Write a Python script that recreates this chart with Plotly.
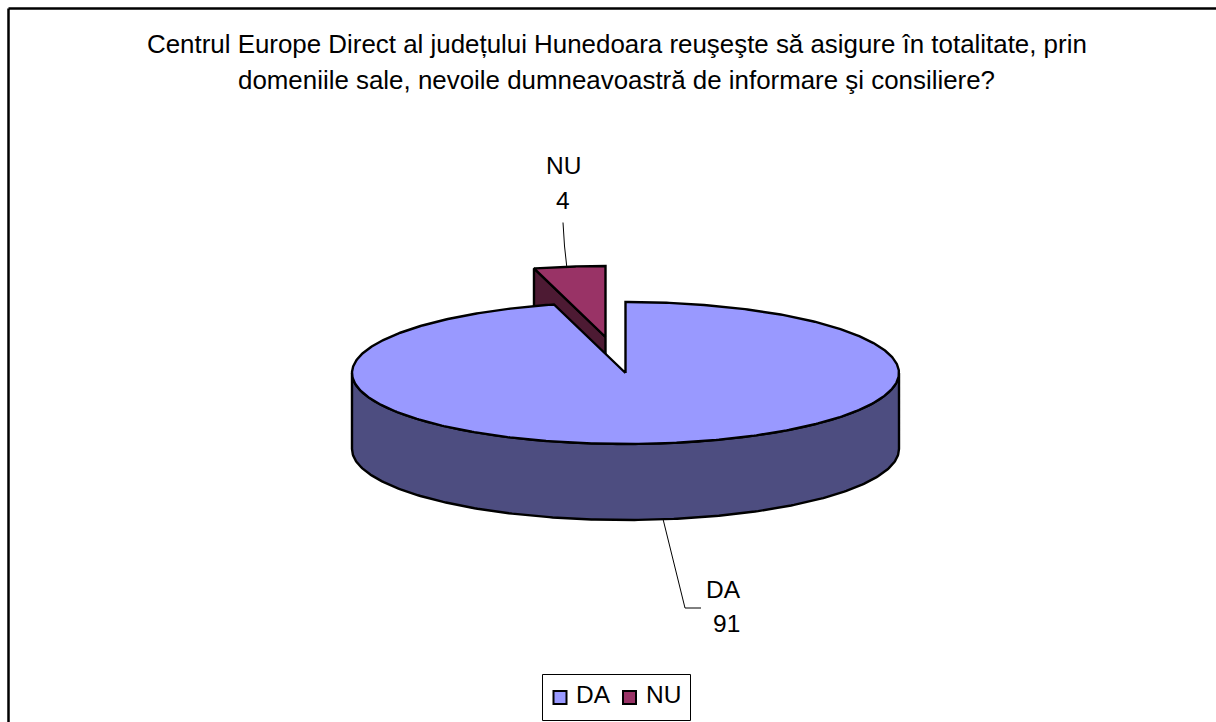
import numpy as np
import plotly.graph_objects as go

# --- data ---
categories = ["DA", "NU"]
values = [91, 4]
title_lines = [
    "Centrul Europe Direct al județului Hunedoara reuşeşte să asigure în totalitate, prin",
    "domeniile sale, nevoile dumneavoastră de informare şi consiliere?",
]

# --- styles / projection ---
W, H = 1216, 722
FONT = "Liberation Sans, Arial, sans-serif"
TOP = {"DA": "#9999FF", "NU": "#993366"}
SIDE = {"DA": "#4D4D80", "NU": "#4D1A33"}
CX, CY, RX, RY, DEPTH = 625.5, 373.0, 273.5, 71.0, 76.0
EXPLODE = {"DA": (0.0, 0.0), "NU": (-20.0, -36.0)}
LW = 2.4


def rim(a0, a1, ox, oy, dz=0.0, n=240):
    """Points of the elliptical rim between clock angles a0..a1 (degrees)."""
    t = np.radians(np.linspace(a0, a1, n))
    return CX + ox + RX * np.sin(t), CY + oy + dz - RY * np.cos(t)


def poly(x, y, color, width=LW):
    return go.Scatter(
        x=list(x), y=list(y), mode="lines", fill="toself", fillcolor=color,
        line=dict(color="black", width=width), hoverinfo="skip", showlegend=False,
    )


total = sum(values)
spans = {}
start = 0.0
for c, v in zip(categories, values):
    spans[c] = (start, start + 360.0 * v / total)
    start += 360.0 * v / total

fig = go.Figure()

# exploded small slice first (it sits behind the big one)
a0, a1 = spans["NU"]
ox, oy = EXPLODE["NU"]
ax, ay = CX + ox, CY + oy
rx0, ry0 = rim(a0, a0, ox, oy, n=1)
fig.add_trace(poly([ax, rx0[0], rx0[0], ax, ax], [ay, ry0[0], ry0[0] + DEPTH, ay + DEPTH, ay], SIDE["NU"]))
rx, ry = rim(a0, a1, ox, oy)
fig.add_trace(poly(np.r_[ax, rx, ax], np.r_[ay, ry, ay], TOP["NU"]))

# big slice: side wall on the near half, then top face
a0, a1 = spans["DA"]
sx, sy = rim(90, 270, 0, 0)
fig.add_trace(poly(np.r_[sx, sx[::-1], sx[0]], np.r_[sy, sy[::-1] + DEPTH, sy[0]], SIDE["DA"]))
rx, ry = rim(a0, a1, 0, 0, n=600)
fig.add_trace(poly(np.r_[CX, rx, CX], np.r_[CY, ry, CY], TOP["DA"]))

# leader lines
for lx, ly in ([[563, 564.5, 566.7], [222.5, 246, 266]], [[663, 685, 701], [519, 608, 608]]):
    fig.add_trace(go.Scatter(x=lx, y=ly, mode="lines", line=dict(color="black", width=1),
                             hoverinfo="skip", showlegend=False))

# legend: swatches and entry names inside a ruled box
LEGEND_SWATCH_X = {"DA": 560, "NU": 629.5}
LEGEND_TEXT_X = {"DA": 593, "NU": 663}
LEGEND_Y = 697.5
for c in categories:
    fig.add_trace(go.Scatter(
        x=[LEGEND_SWATCH_X[c]], y=[LEGEND_Y], mode="markers", name=c, showlegend=False,
        marker=dict(symbol="square", size=13, color=TOP[c], line=dict(color="black", width=2)),
    ))

annotations = []
for i, line in enumerate(title_lines):
    annotations.append(dict(x=616.5, y=44 + 36 * i, text=line, showarrow=False, xref="x", yref="y",
                            font=dict(family=FONT, size=25.9, color="black")))
name_pos = {"DA": (723, 589), "NU": (563, 165)}
value_pos = {"DA": (726, 623), "NU": (563, 200)}
for c, v in zip(categories, values):
    annotations.append(dict(x=name_pos[c][0], y=name_pos[c][1], text=c, showarrow=False,
                            font=dict(family=FONT, size=24.5, color="black")))
    annotations.append(dict(x=value_pos[c][0], y=value_pos[c][1], text=str(v), showarrow=False,
                            font=dict(family=FONT, size=24.5, color="black")))
    annotations.append(dict(x=LEGEND_TEXT_X[c], y=694.5, text=c, showarrow=False,
                            font=dict(family=FONT, size=24.5, color="black")))

shapes = [
    dict(type="line", x0=8.5, y0=8.5, x1=W, y1=8.5, line=dict(color="black", width=2.5)),
    dict(type="line", x0=8.5, y0=8.5, x1=8.5, y1=H, line=dict(color="black", width=2.5)),
    dict(type="rect", x0=542.5, y0=674.5, x1=690.5, y1=720.5, line=dict(color="black", width=1)),
]

fig.update_layout(
    width=W, height=H, autosize=False,
    margin=dict(l=0, r=0, t=0, b=0),
    paper_bgcolor="white", plot_bgcolor="white",
    xaxis=dict(range=[0, W], visible=False, fixedrange=True),
    yaxis=dict(range=[H, 0], visible=False, fixedrange=True),
    annotations=annotations, shapes=shapes,
    showlegend=False,
)
fig.write_html("out.html", config=dict(displayModeBar=False),
               post_script="document.body.style.margin='0';document.body.style.overflow='hidden';")
